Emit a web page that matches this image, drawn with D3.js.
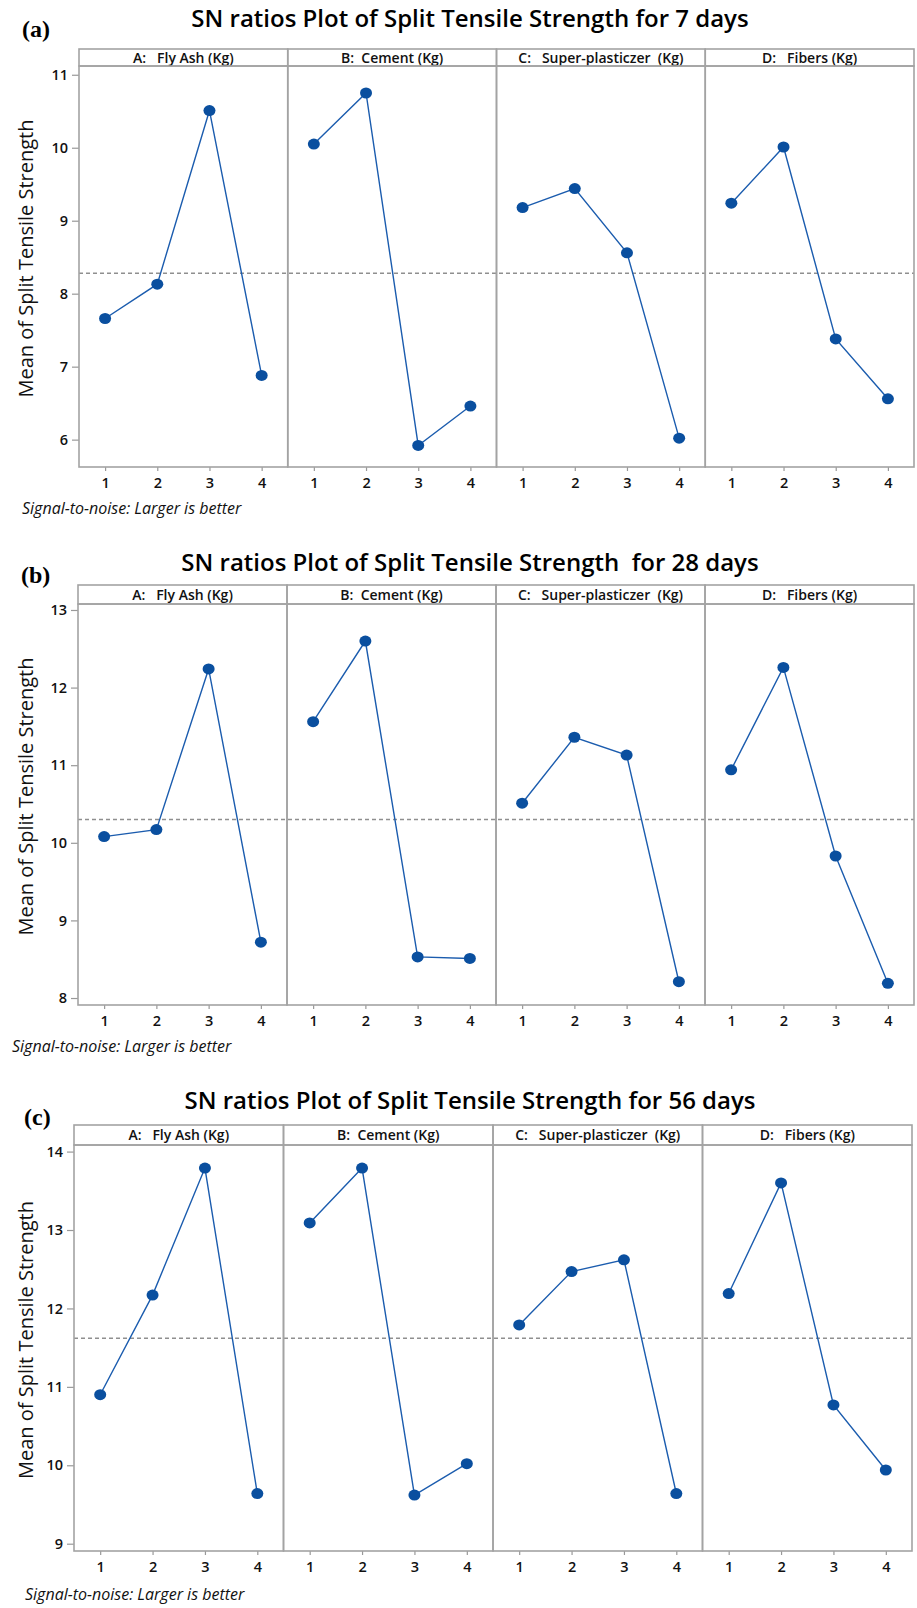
<!DOCTYPE html>
<html>
<head>
<meta charset="utf-8">
<script src="https://cdn.jsdelivr.net/npm/d3@7"></script>
<style>
  body { margin: 0; background: #fff; }
  svg { display: block; font-family: 'Open Sans', sans-serif; }
  .tick text { font-family: 'Open Sans', sans-serif; font-size: 14.5px; font-weight: 600; fill: #111; }
  .tick line { stroke: #999; stroke-width: 1.2; }
  .frame { fill: none; stroke: #a3a3a3; stroke-width: 1.6; }
</style>
</head>
<body>
<script>
const W = 917, H = 1608;

// levels and factor strips
const levels = [1, 2, 3, 4];
const factors = ['A:   Fly Ash (Kg)', 'B:  Cement (Kg)', 'C:   Super-plasticzer  (Kg)', 'D:   Fibers (Kg)'];

// means per factor (A, B, C, D)
const days7 = [
    [7.66, 8.13, 10.51, 6.88],
    [10.05, 10.75, 5.92, 6.46],
    [9.18, 9.44, 8.56, 6.02],
    [9.24, 10.01, 7.38, 6.56]
];
const days28 = [
    [10.08, 10.17, 12.24, 8.72],
    [11.56, 12.60, 8.53, 8.51],
    [10.51, 11.36, 11.13, 8.21],
    [10.94, 12.26, 9.83, 8.19]
];
const days56 = [
    [10.90, 12.17, 13.79, 9.64],
    [13.09, 13.79, 9.62, 10.02],
    [11.79, 12.47, 12.62, 9.64],
    [12.19, 13.60, 10.77, 9.94]
];
const grandMeans = [8.28, 10.30, 11.62];

const ticks7 = [6, 7, 8, 9, 10, 11];
const ticks28 = [8, 9, 10, 11, 12, 13];
const ticks56 = [9, 10, 11, 12, 13, 14];

const titles = [
    'SN ratios Plot of Split Tensile Strength for 7 days',
    'SN ratios Plot of Split Tensile Strength  for 28 days',
    'SN ratios Plot of Split Tensile Strength for 56 days'
];
const tags = ['(a)', '(b)', '(c)'];
const yLabel = 'Mean of Split Tensile Strength';
const footnote = 'Signal-to-noise: Larger is better';

// panel geometry
const panels = [
    { data: days7, ticks: ticks7, mean: grandMeans[0], title: titles[0], tag: tags[0],
      left: 79, right: 914, top: 49, strip: 66, bottom: 467, yDom: [5.625, 11.12],
      titleY: 27, tagY: 37, tagX: 22, footX: 22, footY: 514 },
    { data: days28, ticks: ticks28, mean: grandMeans[1], title: titles[1], tag: tags[1],
      left: 78, right: 914, top: 585, strip: 604, bottom: 1005, yDom: [7.91, 13.077],
      titleY: 571, tagY: 583, tagX: 21, footX: 12, footY: 1052 },
    { data: days56, ticks: ticks56, mean: grandMeans[2], title: titles[2], tag: tags[2],
      left: 74, right: 912, top: 1125, strip: 1145, bottom: 1551, yDom: [8.907, 14.084],
      titleY: 1109, tagY: 1125, tagX: 24, footX: 25, footY: 1600 }
];

const svg = d3.select('body').append('svg')
    .attr('width', W)
    .attr('height', H);

const lineColor = '#1b5cae', dotColor = '#0a4f9f';

panels.forEach(p => {
    const g = svg.append('g');
    const facetW = (p.right - p.left) / factors.length;

    const yScale = d3.scaleLinear().domain(p.yDom).range([p.bottom, p.strip]);

    // title and tag
    g.append('text')
        .attr('x', 470)
        .attr('y', p.titleY)
        .attr('text-anchor', 'middle')
        .style('font-size', '24px')
        .style('font-weight', 600)
        .style('white-space', 'pre')
        .text(p.title);
    g.append('text')
        .attr('x', p.tagX)
        .attr('y', p.tagY)
        .style('font-family', "'Liberation Serif', serif")
        .style('font-weight', 'bold')
        .style('font-size', '24px')
        .text(p.tag);

    // y axis
    const yAxis = g.append('g')
        .attr('transform', 'translate(' + p.left + ',0)')
        .call(d3.axisLeft(yScale).tickValues(p.ticks).tickFormat(d3.format('d')).tickSize(7).tickPadding(4));
    yAxis.select('.domain').remove();

    // y label
    const midY = (p.strip + p.bottom) / 2 - 8;
    g.append('text')
        .attr('transform', 'translate(26,' + midY + ') rotate(-90)')
        .attr('text-anchor', 'middle')
        .attr('dy', '0.35em')
        .style('font-size', '20px')
        .style('fill', '#111')
        .text(yLabel);

    // reference line
    g.append('line')
        .attr('x1', p.left).attr('x2', p.right)
        .attr('y1', yScale(p.mean)).attr('y2', yScale(p.mean))
        .attr('stroke', '#8f8f8f')
        .attr('stroke-width', 1.3)
        .attr('stroke-dasharray', '4,3');

    factors.forEach((f, i) => {
        const x0 = p.left + i * facetW;
        const xScale = d3.scalePoint().domain(levels).range([x0, x0 + facetW]).padding(0.5);
        const vals = p.data[i].map((v, j) => ({ level: levels[j], value: v }));

        const xAxis = g.append('g')
            .attr('transform', 'translate(0,' + p.bottom + ')')
            .call(d3.axisBottom(xScale).tickSize(4).tickPadding(7));
        xAxis.select('.domain').remove();

        // strip
        g.append('rect')
            .attr('class', 'frame')
            .attr('x', x0).attr('y', p.top)
            .attr('width', facetW).attr('height', p.strip - p.top);
        g.append('text')
            .attr('x', x0 + facetW / 2)
            .attr('y', (p.top + p.strip) / 2)
            .attr('dy', '0.36em')
            .attr('text-anchor', 'middle')
            .style('font-size', '14px')
            .style('font-weight', 600)
            .style('white-space', 'pre')
            .style('fill', '#111')
            .text(f);

        // panel box
        g.append('rect')
            .attr('class', 'frame')
            .attr('x', x0).attr('y', p.strip)
            .attr('width', facetW).attr('height', p.bottom - p.strip);

        const line = d3.line()
            .x(d => xScale(d.level))
            .y(d => yScale(d.value));

        g.append('path')
            .datum(vals)
            .attr('d', line)
            .attr('fill', 'none')
            .attr('stroke', lineColor)
            .attr('stroke-width', 1.4);

        g.selectAll(null)
            .data(vals)
            .enter()
            .append('ellipse')
            .attr('cx', d => xScale(d.level))
            .attr('cy', d => yScale(d.value))
            .attr('rx', 6)
            .attr('ry', 5.5)
            .attr('fill', dotColor);
    });

    // footnote
    g.append('text')
        .attr('x', p.footX)
        .attr('y', p.footY)
        .style('font-size', '16px')
        .style('font-style', 'italic')
        .style('fill', '#111')
        .text(footnote);
});
</script>
</body>
</html>
